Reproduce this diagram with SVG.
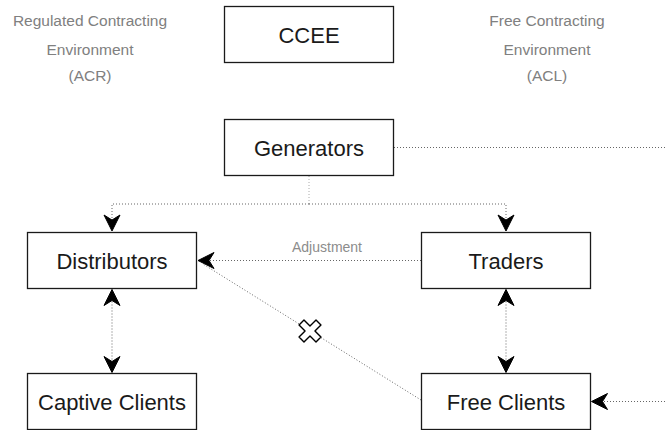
<svg xmlns="http://www.w3.org/2000/svg" width="665" height="430" viewBox="0 0 665 430">
  <style>
    .box { fill: #ffffff; stroke: #1a1a1a; stroke-width: 1.3; }
    .lbl { font-family: "Liberation Sans", Arial, sans-serif; font-size: 22px; fill: #1a1a1a; text-anchor: middle; }
    .env { font-family: "Liberation Sans", Arial, sans-serif; font-size: 15.5px; fill: #808080; text-anchor: middle; }
    .adj { font-family: "Liberation Sans", Arial, sans-serif; font-size: 14px; fill: #8c8c8c; text-anchor: middle; }
    .dot { fill: none; stroke: #666666; stroke-width: 1; stroke-dasharray: 1 2; }
    .dotl { fill: none; stroke: #aaaaaa; stroke-width: 1; stroke-dasharray: 1 2; }
  </style>
  <defs>
    <marker id="arr" markerWidth="20" markerHeight="20" viewBox="-18 -10 20 20" refX="0" refY="0" orient="auto" markerUnits="userSpaceOnUse">
      <path d="M0,0 L-16,-8 L-11,0 L-16,8 Z" fill="#000000" stroke="#000000" stroke-width="1"/>
    </marker>
    <marker id="arrs" markerWidth="20" markerHeight="20" viewBox="-18 -10 20 20" refX="0" refY="0" orient="auto-start-reverse" markerUnits="userSpaceOnUse">
      <path d="M0,0 L-16,-8 L-11,0 L-16,8 Z" fill="#000000" stroke="#000000" stroke-width="1"/>
    </marker>
  </defs>

  <g id="env-acr">
    <text class="env" x="90" y="26">Regulated Contracting</text>
    <text class="env" x="90" y="55">Environment</text>
    <text class="env" x="90" y="81">(ACR)</text>
  </g>
  <g id="env-acl">
    <text class="env" x="547" y="26">Free Contracting</text>
    <text class="env" x="547" y="55">Environment</text>
    <text class="env" x="547" y="81">(ACL)</text>
  </g>

  <g id="connectors">
    <path class="dotl" d="M309,176 V204"/>
    <path class="dot" d="M309,204 H112 V231" marker-end="url(#arr)"/>
    <path class="dot" d="M309,204 H506 V231" marker-end="url(#arr)"/>
    <path class="dot" d="M394,147.5 H665"/>
    <path class="dot" d="M421,260.5 H198" marker-end="url(#arr)"/>
    <text class="adj" x="327" y="252">Adjustment</text>
    <path class="dot" d="M421,400 L203,264"/>
    <path class="dot" d="M112,289.5 V372.5" marker-start="url(#arrs)" marker-end="url(#arrs)"/>
    <path class="dot" d="M506,289.5 V372.5" marker-start="url(#arrs)" marker-end="url(#arrs)"/>
    <path class="dot" d="M665,401.5 H591.5" marker-end="url(#arr)"/>
    <g id="cross" transform="translate(310,331) rotate(45)">
      <path d="M-3.5,-12 H3.5 V-3.5 H12 V3.5 H3.5 V12 H-3.5 V3.5 H-12 V-3.5 H-3.5 Z" fill="#ffffff" stroke="#000000" stroke-width="1.4" stroke-linejoin="round"/>
    </g>
  </g>

  <g id="ccee">
    <rect class="box" x="224.5" y="6.5" width="169" height="56"/>
    <text class="lbl" x="309" y="42.5">CCEE</text>
  </g>
  <g id="generators">
    <rect class="box" x="224.5" y="119.5" width="169" height="56"/>
    <text class="lbl" x="309" y="155.5">Generators</text>
  </g>
  <g id="distributors">
    <rect class="box" x="27.5" y="232.5" width="169" height="56"/>
    <text class="lbl" x="112" y="268.5">Distributors</text>
  </g>
  <g id="traders">
    <rect class="box" x="421.5" y="232.5" width="169" height="56"/>
    <text class="lbl" x="506" y="268.5">Traders</text>
  </g>
  <g id="captive-clients">
    <rect class="box" x="27.5" y="373.5" width="169" height="56"/>
    <text class="lbl" x="112" y="409.5">Captive Clients</text>
  </g>
  <g id="free-clients">
    <rect class="box" x="421.5" y="373.5" width="169" height="56"/>
    <text class="lbl" x="506" y="409.5">Free Clients</text>
  </g>
</svg>
